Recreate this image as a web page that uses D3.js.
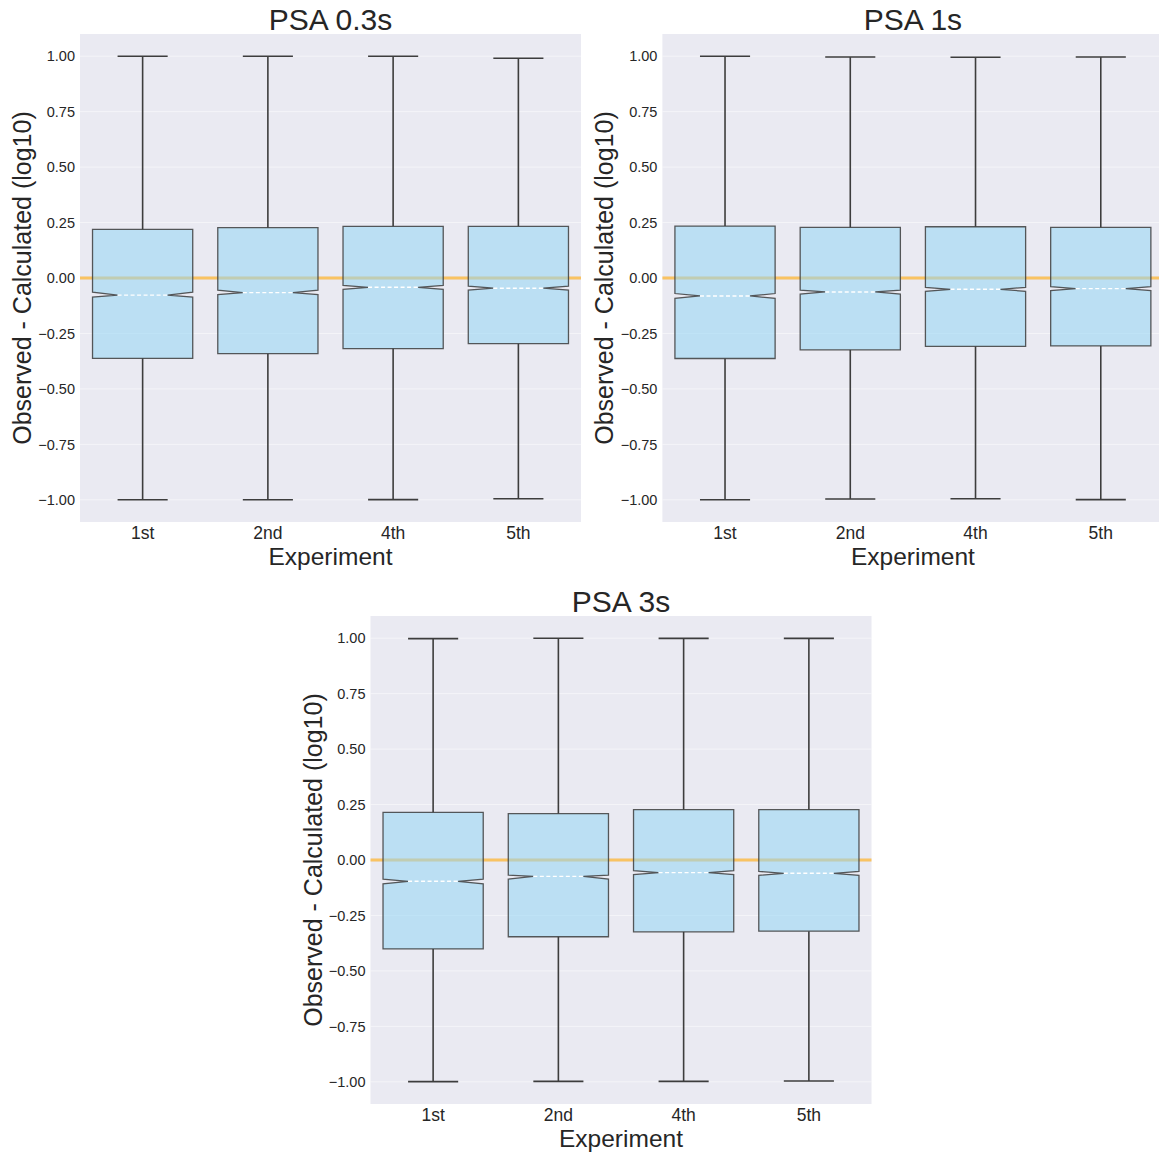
<!DOCTYPE html>
<html>
<head>
<meta charset="utf-8">
<script src="https://cdn.jsdelivr.net/npm/d3@7"></script>
<style>
  html, body { margin: 0; padding: 0; background: #ffffff; }
  svg { display: block; font-family: "Liberation Sans", Arial, sans-serif; }
</style>
</head>
<body>
<svg id="chart" width="1159" height="1153"></svg>
<script>
// Experiments shown on each panel's x axis
const experiments = ["1st", "2nd", "4th", "5th"];
const panelTitles = ["PSA 0.3s", "PSA 1s", "PSA 3s"];
const yTickValues = [-1.0, -0.75, -0.5, -0.25, 0.0, 0.25, 0.5, 0.75, 1.0];

// Box statistics of the residuals, one row per spectral period, one entry per experiment
const q3Values      = [[0.219, 0.227, 0.233, 0.233], [0.234, 0.228, 0.231, 0.228], [0.215, 0.209, 0.227, 0.227]];
const q1Values      = [[-0.362, -0.341, -0.318, -0.296], [-0.363, -0.324, -0.308, -0.306], [-0.401, -0.346, -0.324, -0.321]];
const medianValues  = [[-0.077, -0.066, -0.042, -0.046], [-0.081, -0.063, -0.051, -0.048], [-0.096, -0.074, -0.057, -0.060]];
const notchHigh     = [[-0.064, -0.055, -0.033, -0.037], [-0.070, -0.055, -0.042, -0.039], [-0.086, -0.068, -0.048, -0.051]];
const notchLow      = [[-0.086, -0.075, -0.051, -0.055], [-0.092, -0.073, -0.060, -0.057], [-0.107, -0.086, -0.066, -0.069]];
const whiskerHigh   = [[1.000, 1.000, 1.000, 0.991], [1.000, 0.996, 0.995, 0.996], [0.998, 1.000, 0.999, 0.999]];
const whiskerLow    = [[-1.000, -1.000, -0.999, -0.995], [-1.000, -0.996, -0.995, -0.999], [-0.999, -0.998, -0.998, -0.996]];

// Panel frames (plot areas in page pixels)
const panels = [
  { left: 80,    top: 34,  width: 501, height: 488 },
  { left: 662.4, top: 34,  width: 501, height: 488 },
  { left: 370.5, top: 616, width: 501, height: 488 }
];

const svg = d3.select("#chart");
const textColor = "#262626";

panels.forEach((p, pi) => {
  const g = svg.append("g").attr("transform", `translate(${p.left},${p.top})`);

  const x = d3.scaleBand().domain(experiments).range([0, p.width]).padding(0);
  const y = d3.scaleLinear().domain([-1.1, 1.1]).range([p.height, 0]);

  // plot background
  g.append("rect")
    .attr("width", p.width).attr("height", p.height)
    .attr("fill", "#EAEAF2");

  // horizontal grid
  g.selectAll("line.grid").data(yTickValues).enter().append("line")
    .attr("class", "grid")
    .attr("x1", 0).attr("x2", p.width)
    .attr("y1", d => y(d)).attr("y2", d => y(d))
    .attr("stroke", "#ffffff").attr("stroke-opacity", 0.5).attr("stroke-width", 1);

  // y axis tick labels
  const yAxis = d3.axisLeft(y).tickValues(yTickValues).tickSize(0).tickPadding(5)
    .tickFormat(d3.format(".2f"));
  const ya = g.append("g").call(yAxis);
  ya.select(".domain").remove();
  ya.selectAll("text").attr("font-size", 14.5).attr("fill", textColor)
    .attr("font-family", "'Liberation Sans', Arial, sans-serif")
    .text(d => d3.format(".2f")(d).replace("-", "\u2212"));

  // x axis tick labels
  const xAxis = d3.axisBottom(x).tickSize(0).tickPadding(5);
  const xa = g.append("g").attr("transform", `translate(0,${p.height})`).call(xAxis);
  xa.select(".domain").remove();
  xa.selectAll("text").attr("font-size", 17.5).attr("fill", textColor)
    .attr("font-family", "'Liberation Sans', Arial, sans-serif");

  // zero reference line
  g.append("line")
    .attr("x1", 0).attr("x2", p.width)
    .attr("y1", y(0)).attr("y2", y(0))
    .attr("stroke", "#FFA500").attr("stroke-opacity", 0.6).attr("stroke-width", 2.8);

  const boxW = x.bandwidth() * 0.8;
  const capW = boxW / 2;

  experiments.forEach((e, i) => {
    const cx = x(e) + x.bandwidth() / 2;
    const x0 = cx - boxW / 2, x1 = cx + boxW / 2;
    const nl = cx - boxW / 4, nr = cx + boxW / 4;
    const q1 = q1Values[pi][i], q3 = q3Values[pi][i], med = medianValues[pi][i];
    const cHi = notchHigh[pi][i], cLo = notchLow[pi][i];
    const wHi = whiskerHigh[pi][i], wLo = whiskerLow[pi][i];

    const wg = g.append("g").attr("stroke", "#3d3d3d").attr("stroke-width", 1.6);
    // whiskers
    wg.append("line").attr("x1", cx).attr("x2", cx).attr("y1", y(q3)).attr("y2", y(wHi));
    wg.append("line").attr("x1", cx).attr("x2", cx).attr("y1", y(q1)).attr("y2", y(wLo));
    // caps
    wg.append("line").attr("x1", cx - capW / 2).attr("x2", cx + capW / 2).attr("y1", y(wHi)).attr("y2", y(wHi));
    wg.append("line").attr("x1", cx - capW / 2).attr("x2", cx + capW / 2).attr("y1", y(wLo)).attr("y2", y(wLo));

    // notched box
    const path = d3.path();
    path.moveTo(x0, y(q1));
    path.lineTo(x0, y(cLo));
    path.lineTo(nl, y(med));
    path.lineTo(x0, y(cHi));
    path.lineTo(x0, y(q3));
    path.lineTo(x1, y(q3));
    path.lineTo(x1, y(cHi));
    path.lineTo(nr, y(med));
    path.lineTo(x1, y(cLo));
    path.lineTo(x1, y(q1));
    path.closePath();
    g.append("path")
      .attr("d", path.toString())
      .attr("fill", "rgb(148,214,244)").attr("fill-opacity", 0.55)
      .attr("stroke", "#3d3d3d").attr("stroke-opacity", 0.85).attr("stroke-width", 1.3)
      .attr("stroke-linejoin", "miter");

    // median
    g.append("line")
      .attr("x1", nl).attr("x2", nr)
      .attr("y1", y(med)).attr("y2", y(med))
      .attr("stroke", "#ffffff").attr("stroke-width", 1.4)
      .attr("stroke-dasharray", "4,2.5");
  });

  // title
  g.append("text")
    .attr("x", p.width / 2).attr("y", -4)
    .attr("text-anchor", "middle")
    .attr("font-size", 30).attr("fill", textColor)
    .text(panelTitles[pi]);

  // x axis label
  g.append("text")
    .attr("x", p.width / 2).attr("y", p.height + 43)
    .attr("text-anchor", "middle")
    .attr("font-size", 24.5).attr("fill", textColor)
    .text("Experiment");

  // y axis label
  g.append("text")
    .attr("transform", `translate(-49,${p.height / 2}) rotate(-90)`)
    .attr("text-anchor", "middle")
    .attr("font-size", 25).attr("fill", textColor)
    .text("Observed - Calculated (log10)");
});
</script>
</body>
</html>
